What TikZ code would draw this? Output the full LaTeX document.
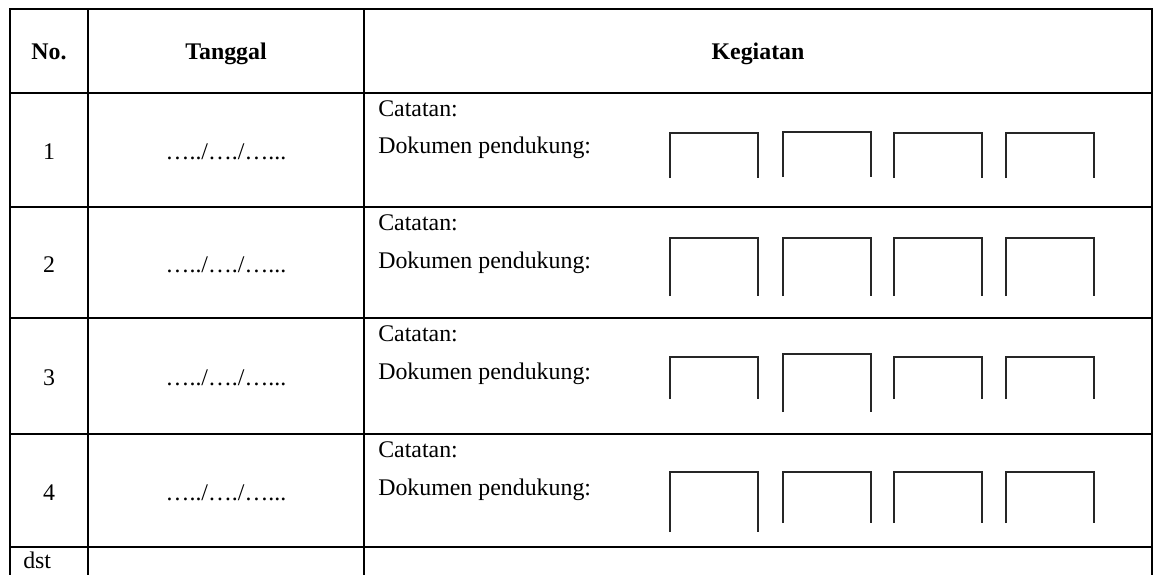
\documentclass[tikz,border=0pt]{standalone}
\usepackage{fontspec}
\setmainfont{Liberation Serif}
\usetikzlibrary{positioning}
\tikzset{every picture/.style={/utils/exec={\fontsize{17.9}{21}\selectfont}}}
\tikzset{
  txt/.style={inner sep=0pt, anchor=base},
  garis/.style={line width=1.8pt, line cap=rect},
  kotak/.style={line width=1pt, draw=black!85}
}

\begin{document}
\begin{tikzpicture}[x=0.75pt,y=-0.75pt]
  \useasboundingbox (0,0) rectangle (1155,574);

  % garis tabel
  \foreach \y in {9,93,207,318,434,547}
    \draw[garis] (10,\y) -- (1152,\y);
  \foreach \x in {10,88,364,1152}
    \draw[garis] (\x,9) -- (\x,580);

  % judul kolom
  \node[txt] (h-no) at (49,60) {\textbf{No.}};
  \node[txt] (h-tgl) at (226,60) {\textbf{Tanggal}};
  \node[txt] (h-keg) at (758,60) {\textbf{Kegiatan}};

  % isi baris
  \foreach \n/\t/\b in {1/93/207, 2/207/318, 3/318/434, 4/434/547} {
    \node[txt] (no-\n) at (49,{(\t+\b)/2+9.5}) {\n};
    \node[txt] (tgl-\n) at (226,{(\t+\b)/2+9.5}) {…../…./…...};
    \node[txt,anchor=base west] (cat-\n) at (378,\t+23.5) {Catatan:};
    \node[txt,anchor=base west] (dok-\n) at (378,\t+61) {Dokumen pendukung:};
  }

  % kotak dokumen
  \foreach \x/\a/\b in {670/133/178, 783/132/177, 894/133/178, 1006/133/178,
                        670/238/296, 783/238/296, 894/238/296, 1006/238/296,
                        670/357/399, 783/354/412, 894/357/399, 1006/357/399,
                        670/472/532, 783/472/523, 894/472/523, 1006/472/523}
    \draw[kotak] (\x,\b) -- (\x,\a) -- (\x+88,\a) -- (\x+88,\b);

  \node[txt,anchor=base west] (dst) at (23,568) {dst};
\end{tikzpicture}
\end{document}
